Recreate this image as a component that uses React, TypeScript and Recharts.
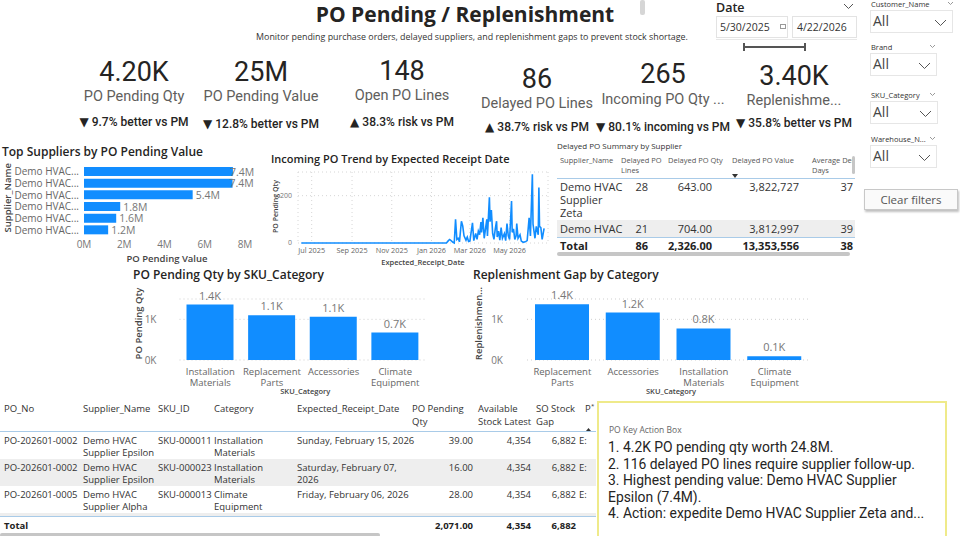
import React from 'react';
import {
  BarChart,
  Bar,
  LineChart,
  Line,
  XAxis,
  YAxis,
  CartesianGrid,
  LabelList,
} from 'recharts';

const BLUE = '#118DFF';
const UI = '"Segoe UI", "Open Sans", "Noto Sans", sans-serif';
const DIN = 'Roboto, "DejaVu Sans", sans-serif';

// KPI cards
const kpiValues = ['4.20K', '25M', '148', '86', '265', '3.40K'];
const kpiLabels = ['PO Pending Qty', 'PO Pending Value', 'Open PO Lines', 'Delayed PO Lines', 'Incoming PO Qty ...', 'Replenishme...'];
const kpiDeltas = ['▼ 9.7% better vs PM', '▼ 12.8% better vs PM', '▲ 38.3% risk vs PM', '▲ 38.7% risk vs PM', '▼ 80.1% incoming vs PM', '▼ 35.8% better vs PM'];

// top suppliers
const supplierNames = [
  'Demo HVAC Supplier Epsilon',
  'Demo HVAC Supplier Zeta',
  'Demo HVAC Supplier Alpha',
  'Demo HVAC Supplier Beta',
  'Demo HVAC Supplier Gamma',
  'Demo HVAC Supplier Delta',
];
const supplierValues = [7400000, 7380000, 5400000, 1800000, 1600000, 1200000];
const supplierTicks = [0, 2000000, 4000000, 6000000, 8000000];

// incoming trend
const trendDates = [
  '2025-06-15', '2025-09-01', '2025-12-01', '2026-01-24', '2026-01-27', '2026-01-29', '2026-02-01', '2026-02-03',
  '2026-02-05', '2026-02-07', '2026-02-09', '2026-02-11', '2026-02-13', '2026-02-16', '2026-02-18', '2026-02-20',
  '2026-02-23', '2026-02-25', '2026-02-27', '2026-03-01', '2026-03-05', '2026-03-07', '2026-03-10', '2026-03-12',
  '2026-03-14', '2026-03-16', '2026-03-18', '2026-03-19', '2026-03-21', '2026-03-23', '2026-03-25', '2026-03-27',
  '2026-03-28', '2026-03-31', '2026-04-01', '2026-04-03', '2026-04-05', '2026-04-07', '2026-04-09', '2026-04-11',
  '2026-04-12', '2026-04-14', '2026-04-16', '2026-04-18', '2026-04-20', '2026-04-23', '2026-04-25', '2026-04-27',
  '2026-04-29', '2026-05-01', '2026-05-04', '2026-05-05', '2026-05-07', '2026-05-09', '2026-05-11', '2026-05-12',
  '2026-05-14', '2026-05-17', '2026-05-19', '2026-05-22', '2026-05-25', '2026-05-28', '2026-05-31', '2026-06-02',
  '2026-06-05', '2026-06-06', '2026-06-07', '2026-06-09', '2026-06-11', '2026-06-14', '2026-06-15', '2026-06-16',
  '2026-06-18', '2026-06-20', '2026-06-23',
];
const trendQty = [
  0, 0, 0, 0, 10, 15, 8, 3,
  0, 100, 15, 20, 5, 92, 72, 30,
  12, 25, 6, 8, 85, 10, 40, 15,
  50, 35, 88, 45, 106, 20, 60, 100,
  30, 193, 90, 139, 40, 15, 60, 92,
  25, 50, 12, 65, 20, 40, 10, 82,
  30, 15, 177, 45, 60, 15, 30, 82,
  20, 35, 8, 3, 5, 10, 106, 30,
  290, 80, 60, 20, 70, 35, 234, 70,
  65, 15, 62,
];
const trendTicks = ['2025-07-01', '2025-09-01', '2025-11-01', '2026-01-01', '2026-03-01', '2026-05-01'];
const MONTHS = ['Jan', 'Feb', 'Mar', 'Apr', 'May', 'Jun', 'Jul', 'Aug', 'Sep', 'Oct', 'Nov', 'Dec'];

// category charts
const skuCategories = ['Installation Materials', 'Replacement Parts', 'Accessories', 'Climate Equipment'];
const skuPendingQty = [1362, 1098, 1065, 675];
const gapCategories = ['Replacement Parts', 'Accessories', 'Installation Materials', 'Climate Equipment'];
const gapValues = [1370, 1165, 775, 90];

// delayed PO summary
const delayedSupplier = [['Demo HVAC', 'Supplier', 'Zeta'], ['Demo HVAC']];
const delayedLines = ['28', '21'];
const delayedQty = ['643.00', '704.00'];
const delayedValue = ['3,822,727', '3,812,997'];
const delayedDays = ['37', '39'];
const delayedTotal = ['86', '2,326.00', '13,353,556', '38'];

// PO detail table
const poNo = ['PO-202601-0002', 'PO-202601-0002', 'PO-202601-0005'];
const poSupplier = [['Demo HVAC', 'Supplier Epsilon'], ['Demo HVAC', 'Supplier Epsilon'], ['Demo HVAC', 'Supplier Alpha']];
const poSku = ['SKU-000011', 'SKU-000023', 'SKU-000013'];
const poCategory = [['Installation', 'Materials'], ['Installation', 'Materials'], ['Climate', 'Equipment']];
const poDate = [['Sunday, February 15, 2026'], ['Saturday, February 07,', '2026'], ['Friday, February 06, 2026']];
const poQty = ['39.00', '16.00', '28.00'];
const poStock = ['4,354', '4,354', '4,354'];
const poGap = ['6,882', '6,882', '6,882'];
const poTotal = ['2,071.00', '4,354', '6,882'];

const actionLines = [
  '1. 4.2K PO pending qty worth 24.8M.',
  '2. 116 delayed PO lines require supplier follow-up.',
  '3. Highest pending value: Demo HVAC Supplier',
  'Epsilon (7.4M).',
  '4. Action: expedite Demo HVAC Supplier Zeta and...',
];

const supplierData = supplierNames.map((name, i) => ({ name, value: supplierValues[i] }));
const trendData = trendDates.map((d, i) => ({ t: Date.parse(d + 'T00:00:00Z'), qty: trendQty[i] }));
const skuData = skuCategories.map((c, i) => ({ cat: c, qty: skuPendingQty[i] }));
const gapData = gapCategories.map((c, i) => ({ cat: c, gap: gapValues[i] }));

const abs = (left: number, top: number, extra: React.CSSProperties = {}): React.CSSProperties => ({
  position: 'absolute',
  left,
  top,
  whiteSpace: 'nowrap',
  ...extra,
});

function Chevron({ x, y, w = 12, color = '#555' }: { x: number; y: number; w?: number; color?: string }) {
  return (
    <svg style={{ position: 'absolute', left: x, top: y }} width={w} height={w / 2 + 2}>
      <polyline points={`1,1 ${w / 2},${w / 2} ${w - 1},1`} fill="none" stroke={color} strokeWidth={1} />
    </svg>
  );
}

const kpiPos = [
  { cx: 134, v: 72, l: 97, d: 122 },
  { cx: 261, v: 72, l: 97, d: 124 },
  { cx: 402, v: 71, l: 96, d: 122 },
  { cx: 537, v: 79, l: 104, d: 127 },
  { cx: 663, v: 74, l: 100, d: 127 },
  { cx: 794, v: 76, l: 101, d: 123 },
];

function Kpis() {
  return (
    <>
      {kpiValues.map((v, i) => {
        const p = kpiPos[i];
        return (
          <React.Fragment key={i}>
            <div style={abs(p.cx - 70, p.v - 16, { width: 140, textAlign: 'center', fontFamily: DIN, fontSize: 27, lineHeight: '32px', color: '#252423' })}>{v}</div>
            <div style={abs(p.cx - 70, p.l - 10, { width: 140, textAlign: 'center', fontFamily: DIN, fontSize: 14.5, lineHeight: '20px', color: '#605E5C' })}>{kpiLabels[i]}</div>
            <div style={abs(p.cx - 75, p.d - 8, { width: 150, textAlign: 'center', fontFamily: DIN, fontSize: 12, fontWeight: 500, lineHeight: '16px', color: '#252423' })}>{kpiDeltas[i]}</div>
          </React.Fragment>
        );
      })}
    </>
  );
}

function Slicers() {
  const filters = [
    { name: 'Customer_Name', top: 0, w: 83, hw: 947 },
    { name: 'Brand', top: 43, w: 67, hw: 929 },
    { name: 'SKU_Category', top: 91, w: 68, hw: 929 },
    { name: 'Warehouse_N...', top: 135, w: 67, hw: 929 },
  ];
  return (
    <>
      <div style={abs(640, 0, { width: 5, height: 15, background: '#d6d6d6', borderRadius: 2 })} />
      <div style={abs(716, 1, { fontFamily: UI, fontSize: 12.5, fontWeight: 600, color: '#252423', lineHeight: '14px' })}>Date</div>
      <Chevron x={843} y={3} w={11} />
      <div style={abs(716, 16, { width: 72, height: 22, border: '1px solid #e3e3e3', boxSizing: 'border-box' })} />
      <div style={abs(720, 20, { fontFamily: UI, fontSize: 10.5, color: '#333' })}>5/30/2025</div>
      <div style={abs(780, 24, { width: 6, height: 5, border: '1px solid #999', boxSizing: 'border-box' })} />
      <div style={abs(792, 16, { width: 65, height: 22, border: '1px solid #e3e3e3', boxSizing: 'border-box' })} />
      <div style={abs(797, 20, { fontFamily: UI, fontSize: 10.5, color: '#333' })}>4/22/2026</div>
      <div style={abs(716, 39, { width: 141, height: 1, background: '#e8e8e8' })} />
      <div style={abs(743, 46, { width: 62, height: 2, background: '#555' })} />
      <div style={abs(743, 43, { width: 2, height: 8, background: '#555' })} />
      <div style={abs(804, 43, { width: 2, height: 8, background: '#555' })} />
      {filters.map((f) => (
        <React.Fragment key={f.name}>
          <div style={abs(871, f.top, { fontFamily: UI, fontSize: 7.5, color: '#333', lineHeight: '8px' })}>{f.name}</div>
          <Chevron x={f.hw} y={f.top + 1} w={7} color="#999" />
          <div style={abs(870, f.top + 10, { width: f.w, height: 23, border: '1px solid #e6e6e6', boxSizing: 'border-box' })} />
          <div style={abs(873, f.top + 11, { fontFamily: UI, fontSize: 14, color: '#444' })}>All</div>
          <Chevron x={870 + f.w - 19} y={f.top + 19} w={13} color="#555" />
        </React.Fragment>
      ))}
      <div style={abs(864, 189, {
        width: 94, height: 21, border: '1px solid #c8c8c8', boxSizing: 'border-box', background: '#fafafa',
        boxShadow: '1px 2px 2px rgba(0,0,0,0.25)', fontFamily: UI, fontSize: 11.5, color: '#555',
        textAlign: 'center', lineHeight: '19px',
      })}>Clear filters</div>
    </>
  );
}

function SupplierTick(props: any) {
  const { x, y, payload } = props;
  return (
    <text x={x} y={y + 3.5} textAnchor="end" fill="#666" fontSize={10} fontFamily={UI}>
      {`${String(payload.value).slice(0, 9)}...`}
    </text>
  );
}

function SuppliersChart() {
  return (
    <>
      <div style={abs(2, 143, { fontFamily: UI, fontSize: 12, fontWeight: 600, color: '#252423' })}>Top Suppliers by PO Pending Value</div>
      <div style={abs(-26, 193, { fontFamily: UI, fontSize: 9.5, fontWeight: 600, color: '#444', transform: 'rotate(-90deg)', width: 66, textAlign: 'center' })}>Supplier_Name</div>
      <div style={abs(0, 160)}>
        <BarChart width={258} height={96} data={supplierData} layout="vertical" margin={{ top: 6, right: 13, bottom: 0, left: 0 }} barSize={9}>
          <XAxis type="number" domain={[0, 8000000]} ticks={supplierTicks} tickFormatter={(v: number) => `${v / 1000000}M`}
            axisLine={false} tickLine={false} tickSize={0} tickMargin={5} height={20} interval={0}
            tick={{ fontSize: 10, fill: '#777', fontFamily: UI }} />
          <YAxis type="category" dataKey="name" width={84} axisLine={false} tickLine={false} tickSize={0} tickMargin={5}
            tick={<SupplierTick />} interval={0} />
          <Bar dataKey="value" fill={BLUE} isAnimationActive={false}>
            <LabelList dataKey="value" content={(p: any) => {
              const over = p.value > 7000000;
              return (
                <text x={p.x + p.width + (over ? -3 : 3)} y={p.y + p.height / 2 + 4} fontSize={10.5} fill="#777" fontFamily={UI}>
                  {`${(p.value / 1000000).toFixed(1)}M`}
                </text>
              );
            }} />
          </Bar>
        </BarChart>
      </div>
      <div style={abs(117, 252, { fontFamily: UI, fontSize: 9.5, fontWeight: 600, color: '#444', width: 100, textAlign: 'center' })}>PO Pending Value</div>
    </>
  );
}

function TrendChart() {
  const start = Date.parse('2025-06-10T00:00:00Z');
  const end = Date.parse('2026-06-29T00:00:00Z');
  return (
    <>
      <div style={abs(271, 151, { fontFamily: UI, fontSize: 11, fontWeight: 600, color: '#252423' })}>Incoming PO Trend by Expected Receipt Date</div>
      <div style={abs(247, 202, { fontFamily: UI, fontSize: 7, fontWeight: 600, color: '#444', transform: 'rotate(-90deg)', width: 56, textAlign: 'center' })}>PO Pending Qty</div>
      <div style={abs(268, 168)}>
        <LineChart width={285} height={89} data={trendData} margin={{ top: 4, right: 5, bottom: 0, left: 0 }}>
          <CartesianGrid stroke="#d6d6d6" strokeDasharray="1 3" />
          <XAxis dataKey="t" type="number" scale="time" domain={[start, end]} interval={0}
            ticks={trendTicks.map((d) => Date.parse(d + 'T00:00:00Z'))}
            tickFormatter={(v: number) => { const d = new Date(v); return `${MONTHS[d.getUTCMonth()]} ${d.getUTCFullYear()}`; }}
            axisLine={false} tickLine={false} tickSize={0} tickMargin={5} height={14}
            tick={{ fontSize: 7.3, fill: '#666', fontFamily: UI }} />
          <YAxis domain={[0, 300]} ticks={[0, 200]} width={30} axisLine={false} tickLine={false} tickSize={0} tickMargin={6}
            tick={{ fontSize: 7, fill: '#777', fontFamily: UI }} />
          <Line type="linear" dataKey="qty" stroke={BLUE} strokeWidth={1.6} dot={false} isAnimationActive={false} />
        </LineChart>
      </div>
      <div style={abs(373, 257, { fontFamily: UI, fontSize: 7.5, fontWeight: 600, color: '#444', width: 100, textAlign: 'center' })}>Expected_Receipt_Date</div>
    </>
  );
}

function CatTick(props: any) {
  const { x, y, payload } = props;
  const words = String(payload.value).split(' ');
  return (
    <text x={x} y={y} textAnchor="middle" fill="#666" fontSize={9.5} fontFamily={UI}>
      {words.map((w, i) => (
        <tspan key={i} x={x} dy={i === 0 ? 8 : 11}>{w}</tspan>
      ))}
    </text>
  );
}

function CategoryChart({ title, yLabel, data, dataKey, left, width, yWidth, tickGap, barSize }: any) {
  return (
    <>
      <div style={abs(left + 3, 266, { fontFamily: UI, fontSize: 12, fontWeight: 600, color: '#252423' })}>{title}</div>
      <div style={abs(left - 32, 317, { fontFamily: UI, fontSize: 9.5, fontWeight: 600, color: '#444', transform: 'rotate(-90deg)', width: 80, textAlign: 'center' })}>{yLabel}</div>
      <div style={abs(left, 285)}>
        <BarChart width={width} height={103} data={data} margin={{ top: 14, right: 5, bottom: 0, left: 0 }} barSize={barSize}>
          <CartesianGrid vertical={false} stroke="#cfcfcf" strokeDasharray="1 3" />
          <XAxis dataKey="cat" axisLine={false} tickLine={false} tickSize={0} tickMargin={7} height={28} interval={0} tick={<CatTick />} />
          <YAxis domain={[0, 1500]} ticks={[0, 1000]} width={yWidth} axisLine={false} tickLine={false} tickSize={0} tickMargin={tickGap}
            tickFormatter={(v: number) => `${v / 1000}K`} tick={{ fontSize: 10, fill: '#777', fontFamily: UI }} />
          <Bar dataKey={dataKey} fill={BLUE} isAnimationActive={false}>
            <LabelList dataKey={dataKey} position="top" offset={5} formatter={(v: any) => `${(Number(v) / 1000).toFixed(1)}K`}
              style={{ fontSize: 11, fill: '#777', fontFamily: UI }} />
          </Bar>
        </BarChart>
      </div>
      <div style={abs(left + yWidth + (width - yWidth) / 2 - 50, 386, { fontFamily: UI, fontSize: 7.5, fontWeight: 600, color: '#444', width: 100, textAlign: 'center' })}>SKU_Category</div>
    </>
  );
}

function DelayedTable() {
  const hdr: React.CSSProperties = { fontFamily: UI, fontSize: 7.5, color: '#555', lineHeight: '10px' };
  const body: React.CSSProperties = { fontFamily: UI, fontSize: 11, color: '#333', lineHeight: '13px' };
  const rightCols = [648, 712, 799, 853];
  return (
    <div style={abs(557, 138, { width: 298, height: 120, overflow: 'hidden' })}>
      <div style={abs(0, 3, { ...hdr, fontSize: 8, color: '#333' })}>Delayed PO Summary by Supplier</div>
      <div style={abs(3, 17, hdr)}>Supplier_Name</div>
      <div style={abs(64, 17, hdr)}>Delayed PO<br />Lines</div>
      <div style={abs(111, 17, hdr)}>Delayed PO Qty</div>
      <div style={abs(175, 17, hdr)}>Delayed PO Value</div>
      <div style={abs(255, 17, hdr)}>Average Delay<br />Days</div>
      <svg style={{ position: 'absolute', left: 175, top: 36 }} width={6} height={4}><polygon points="0,0 6,0 3,4" fill="#333" /></svg>
      <div style={abs(0, 40, { width: 298, height: 1, background: '#a9cbe8' })} />
      <div style={abs(0, 82, { width: 298, height: 17, background: '#eeeeee' })} />
      {[0, 1].map((r) => {
        const top = r === 0 ? 42 : 84;
        return (
          <React.Fragment key={r}>
            <div style={abs(3, top, body)}>{delayedSupplier[r].map((s, k) => <div key={k}>{s}</div>)}</div>
            {[delayedLines[r], delayedQty[r], delayedValue[r], delayedDays[r]].map((v, c) => (
              <div key={c} style={abs(rightCols[c] - 557 - 60, top, { ...body, width: 60, textAlign: 'right' })}>{v}</div>
            ))}
          </React.Fragment>
        );
      })}
      <div style={abs(0, 99, { width: 298, height: 1, background: '#a9cbe8' })} />
      <div style={abs(3, 101, { ...body, fontWeight: 700, color: '#222' })}>Total</div>
      {delayedTotal.map((v, c) => (
        <div key={c} style={abs(rightCols[c] - 557 - 70, 101, { ...body, fontWeight: 700, color: '#222', width: 70, textAlign: 'right' })}>{v}</div>
      ))}
      <div style={abs(0, 114, { width: 293, height: 4, background: '#c6c6c6', borderRadius: 2 })} />
      <div style={abs(295, 18, { width: 3, height: 18, background: '#c6c6c6', borderRadius: 2 })} />
    </div>
  );
}

function PoTable() {
  const hdr: React.CSSProperties = { fontFamily: UI, fontSize: 9.5, color: '#333', lineHeight: '12.5px' };
  const body: React.CSSProperties = { fontFamily: UI, fontSize: 9.5, color: '#333', lineHeight: '12px' };
  const rowTops = [35, 62, 89];
  const numRight = [473, 531, 576];
  return (
    <div style={abs(0, 398, { width: 596, height: 138, overflow: 'hidden' })}>
      <div style={abs(4, 5, hdr)}>PO_No</div>
      <div style={abs(83, 5, hdr)}>Supplier_Name</div>
      <div style={abs(158, 5, hdr)}>SKU_ID</div>
      <div style={abs(214, 5, hdr)}>Category</div>
      <div style={abs(297, 5, hdr)}>Expected_Receipt_Date</div>
      <div style={abs(412, 5, hdr)}>PO Pending<br />Qty</div>
      <div style={abs(478, 5, hdr)}>Available<br />Stock Latest</div>
      <div style={abs(536, 5, hdr)}>SO Stock<br />Gap</div>
      <div style={abs(585, 5, hdr)}>P</div>
      <div style={abs(591, 2, { ...hdr, fontSize: 6 })}>*</div>
      <svg style={{ position: 'absolute', left: 586, top: 30 }} width={5} height={3}><polygon points="0,3 5,3 2.5,0" fill="#333" /></svg>
      <div style={abs(0, 33, { width: 596, height: 1, background: '#a9cbe8' })} />
      {rowTops.map((top, r) => (
        <React.Fragment key={r}>
          <div style={abs(0, top - 1, { width: 596, height: 27, background: r % 2 === 1 ? '#eeeeee' : '#ffffff' })} />
          <div style={abs(4, top + 2, body)}>{poNo[r]}</div>
          <div style={abs(83, top + 2, body)}>{poSupplier[r].map((s, k) => <div key={k}>{s}</div>)}</div>
          <div style={abs(158, top + 2, body)}>{poSku[r]}</div>
          <div style={abs(214, top + 2, body)}>{poCategory[r].map((s, k) => <div key={k}>{s}</div>)}</div>
          <div style={abs(297, top + 2, body)}>{poDate[r].map((s, k) => <div key={k}>{s}</div>)}</div>
          {[poQty[r], poStock[r], poGap[r]].map((v, c) => (
            <div key={c} style={abs(numRight[c] - 60, top + 2, { ...body, width: 60, textAlign: 'right' })}>{v}</div>
          ))}
          <div style={abs(579, top + 2, body)}>E:</div>
        </React.Fragment>
      ))}
      <div style={abs(0, 115, { width: 596, height: 3, background: '#eeeeee' })} />
      <div style={abs(0, 118, { width: 596, height: 1, background: '#a9cbe8' })} />
      <div style={abs(4, 122, { ...body, fontWeight: 700, color: '#222' })}>Total</div>
      {poTotal.map((v, c) => (
        <div key={c} style={abs(numRight[c] - 60, 122, { ...body, fontWeight: 700, color: '#222', width: 60, textAlign: 'right' })}>{v}</div>
      ))}
      <div style={abs(0, 135, { width: 380, height: 4, background: '#c6c6c6', borderRadius: 2 })} />
    </div>
  );
}

function ActionBox() {
  return (
    <div style={abs(597, 401, { width: 350, height: 150, border: '2px solid #EFEA8A', boxSizing: 'border-box', background: '#fff' })}>
      <div style={abs(10, 21, { fontFamily: UI, fontSize: 8.5, color: '#666' })}>PO Key Action Box</div>
      {actionLines.map((l, i) => (
        <div key={i} style={abs(9, 36 + i * 16.6, { fontFamily: DIN, fontSize: 13.9, color: '#252423', lineHeight: '17px' })}>{l}</div>
      ))}
    </div>
  );
}

export default function App() {
  return (
    <div style={{ position: 'absolute', left: 0, top: 0, width: 960, height: 536, overflow: 'hidden', background: '#fff', fontFamily: UI }}>
      <div style={abs(265, 3, { width: 400, textAlign: 'center', fontFamily: UI, fontSize: 21, fontWeight: 700, color: '#252423', lineHeight: '22px' })}>PO Pending / Replenishment</div>
      <div style={abs(222, 30, { width: 500, textAlign: 'center', fontFamily: UI, fontSize: 8.9, color: '#333' })}>
        Monitor pending purchase orders, delayed suppliers, and replenishment gaps to prevent stock shortage.
      </div>
      <Kpis />
      <Slicers />
      <SuppliersChart />
      <TrendChart />
      <DelayedTable />
      <CategoryChart title="PO Pending Qty by SKU_Category" yLabel="PO Pending Qty" data={skuData} dataKey="qty"
        left={130} width={301} yWidth={49.5} tickGap={23} barSize={47} />
      <CategoryChart title="Replenishment Gap by Category" yLabel="Replenishmen..." data={gapData} dataKey="gap"
        left={470} width={345} yWidth={57} tickGap={24} barSize={54} />
      <PoTable />
      <ActionBox />
    </div>
  );
}
